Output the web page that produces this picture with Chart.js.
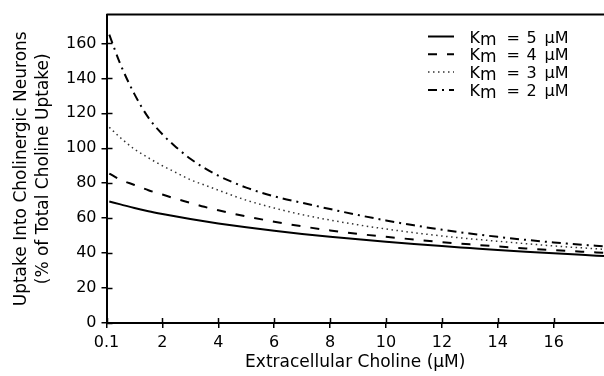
<!DOCTYPE html>
<html><head><meta charset="utf-8">
<style>html,body{margin:0;padding:0;background:#fff}#wrap{width:604px;height:376px}</style>
<script src="https://cdn.jsdelivr.net/npm/chart.js@4.4.1/dist/chart.umd.min.js"></script>
</head><body><div id="wrap"><canvas id="c" width="604" height="376"></canvas></div>
<script>
// Extracellular choline (µM)
const xValues = [0.1, 0.5, 1, 1.5, 2, 2.5, 3, 3.5, 4, 5, 6, 7, 8, 9, 10, 11, 12, 13, 14, 15, 16, 17, 17.8];
// Uptake into cholinergic neurons (% of total choline uptake)
const uptakeKm5 = [69.5, 67.9, 65.8, 64.0, 62.4, 60.9, 59.5, 58.2, 57, 54.8, 52.8, 51, 49.4, 47.9, 46.5, 45.2, 44, 42.9, 41.8, 40.8, 39.9, 39, 38.3];
const uptakeKm4 = [85.5, 82, 79, 76, 73.5, 71, 68.8, 66.5, 64.5, 61, 58, 55.3, 53, 51, 49.3, 47.8, 46.3, 45, 43.8, 42.7, 41.7, 40.8, 40.2];
const uptakeKm3 = [112, 106, 99.5, 94.5, 90, 86, 82, 79, 76, 70.3, 65.8, 62, 58.9, 56.2, 53.8, 51.7, 49.8, 48.2, 46.8, 45.4, 44.1, 43, 42.2];
const uptakeKm2 = [165, 148, 131, 117.5, 108, 100.5, 94, 88.7, 84.3, 77.5, 72.5, 68.8, 65.2, 61.8, 58.7, 55.9, 53.4, 51.2, 49.3, 47.6, 46.1, 44.8, 43.9];
const kmLabels = ['5', '4', '3', '2'];
const xTickValues = [0, 2, 4, 6, 8, 10, 12, 14, 16];
const xTickLabels = ['0.1', '2', '4', '6', '8', '10', '12', '14', '16'];
const yTickValues = [0, 20, 40, 60, 80, 100, 120, 140, 160];

const FONT = 'DejaVu Sans';
const series = [uptakeKm5, uptakeKm4, uptakeKm3, uptakeKm2];
const styles = [
  {borderDash: [], borderWidth: 2, borderColor: '#000'},
  {borderDash: [9, 10], borderWidth: 2, borderColor: '#000'},
  {borderDash: [1.5, 3.5], borderWidth: 1.5, borderColor: '#333'},
  {borderDash: [9, 5, 2, 5], borderWidth: 2, borderColor: '#000'}
];
const datasets = series.map((arr, i) => Object.assign({
  label: 'Km = ' + kmLabels[i] + ' µM',
  data: xValues.map((x, j) => ({x: x, y: arr[j]})),
  pointRadius: 0,
  fill: false,
  cubicInterpolationMode: 'monotone'
}, styles[i]));

const extras = {
  id: 'extras',
  afterDraw(chart) {
    const ctx = chart.ctx, a = chart.chartArea;
    const xs = chart.scales.x, ys = chart.scales.y;
    ctx.save();
    ctx.strokeStyle = '#000';
    ctx.setLineDash([]);
    // top frame line
    ctx.lineWidth = 2;
    ctx.beginPath(); ctx.moveTo(a.left, a.top); ctx.lineTo(a.right, a.top); ctx.stroke();
    // inward tick halves
    ctx.lineWidth = 1.5;
    yTickValues.forEach(v => {
      const y = Math.round(ys.getPixelForValue(v)) + 0.5;
      ctx.beginPath(); ctx.moveTo(a.left, y); ctx.lineTo(a.left + 6, y); ctx.stroke();
    });
    xTickValues.forEach(v => {
      const x = Math.round(xs.getPixelForValue(v)) + 0.5;
      ctx.beginPath(); ctx.moveTo(x, a.bottom); ctx.lineTo(x, a.bottom - 5); ctx.stroke();
    });
    // legend
    chart.data.datasets.forEach((ds, i) => {
      const cy = 36.5 + i * 17.8;
      ctx.strokeStyle = ds.borderColor;
      ctx.lineWidth = ds.borderWidth;
      ctx.setLineDash(ds.borderDash);
      ctx.beginPath(); ctx.moveTo(428, cy); ctx.lineTo(454, cy); ctx.stroke();
      ctx.setLineDash([]);
      ctx.fillStyle = '#000';
      ctx.textBaseline = 'alphabetic';
      ctx.textAlign = 'left';
      const base = cy + 6;
      ctx.font = '16px "' + FONT + '"';
      ctx.fillText('K', 469.5, base);
      ctx.font = '17px "' + FONT + '"';
      ctx.fillText('m', 480, base + 2);
      ctx.font = '16px "' + FONT + '"';
      ctx.fillText('=', 506.5, base);
      ctx.fillText(kmLabels[i], 526.5, base);
      ctx.fillText('µM', 544.5, base);
    });
    ctx.restore();
  }
};

new Chart(document.getElementById('c'), {
  type: 'line',
  data: {datasets: datasets},
  options: {
    responsive: false,
    animation: false,
    devicePixelRatio: 1,
    layout: {padding: {top: 13, right: 0, bottom: 0, left: 0}},
    plugins: {legend: {display: false}, tooltip: {enabled: false}},
    scales: {
      x: {
        type: 'linear', min: 0, max: 17.8,
        afterBuildTicks: s => { s.ticks = xTickValues.map(v => ({value: v})); },
        afterFit: s => { s.height = 53; },
        ticks: {callback: (v, i) => xTickLabels[i], autoSkip: false, maxRotation: 0, padding: 5,
                color: '#000', font: {family: FONT, size: 16}},
        grid: {drawOnChartArea: false, drawTicks: true, tickLength: 5, color: '#000', lineWidth: 1.5},
        border: {display: true, color: '#000', width: 2},
        title: {display: true, text: 'Extracellular Choline (µM)', color: '#000',
                font: {family: FONT, size: 17, lineHeight: 1.2}, padding: {top: 0, bottom: 3}}
      },
      y: {
        type: 'linear', min: 0, max: 176.5,
        afterBuildTicks: s => { s.ticks = yTickValues.map(v => ({value: v})); },
        afterFit: s => { s.width = 106.5; },
        ticks: {callback: v => String(v), autoSkip: false, padding: 5,
                color: '#000', font: {family: FONT, size: 16}},
        grid: {drawOnChartArea: false, drawTicks: true, tickLength: 5, color: '#000', lineWidth: 1.5},
        border: {display: true, color: '#000', width: 2},
        title: {display: true, text: ['Uptake Into Cholinergic Neurons', '(% of Total Choline Uptake)'], color: '#000',
                font: {family: FONT, size: 17, lineHeight: 1.25}, padding: {top: 11.4, bottom: 0}}
      }
    }
  },
  plugins: [extras]
});
</script></body></html>
